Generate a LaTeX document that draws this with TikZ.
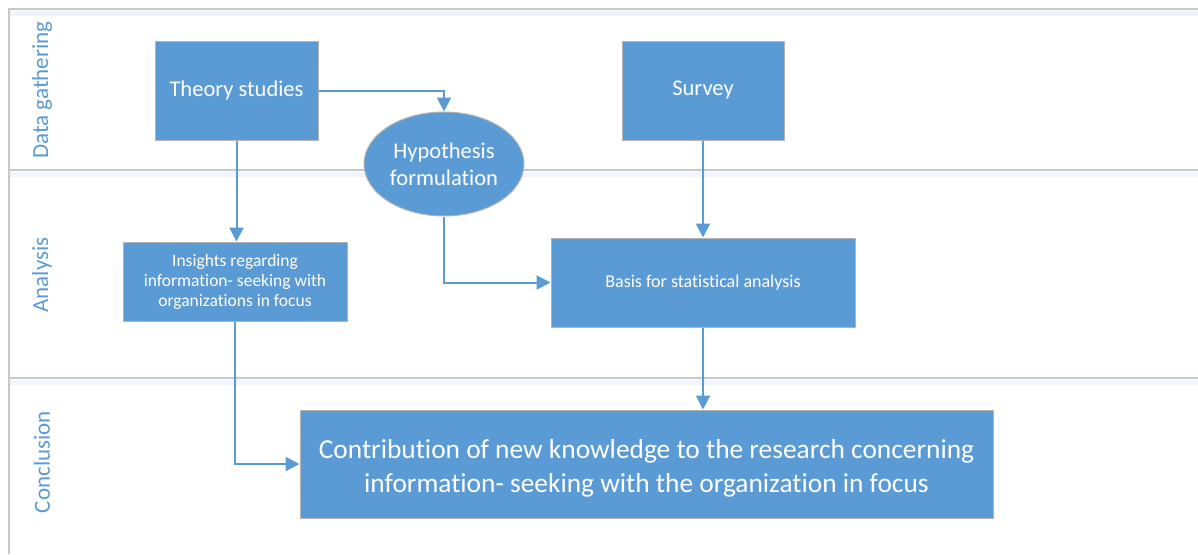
\documentclass[tikz,border=0pt]{standalone}
\usepackage{fontspec}
\setmainfont{Carlito}[RawFeature={-liga;-clig;-calt;-dlig;-rlig;-ccmp}]
\usetikzlibrary{arrows.meta,shapes.geometric}
\definecolor{boxblue}{HTML}{5B9BD5}
\definecolor{laneline}{HTML}{C8C8C8}
\definecolor{laneshade}{HTML}{F1F5FB}
\definecolor{boxedge}{HTML}{B4B4B4}
\tikzset{
  procbox/.style={draw=boxedge, line width=1pt, fill=boxblue, text=white, align=center, inner sep=0pt},
  flow/.style={draw=boxblue, line width=2pt, -{Triangle[length=14pt,width=14pt]}},
  lanetitle/.style={text=boxblue, rotate=90, font=\fontsize{23}{26}\selectfont},
}
\begin{document}
\begin{tikzpicture}[x=1pt,y=-1pt]
  \useasboundingbox (0,0) rectangle (1198,554);
  \fill[white] (0,0) rectangle (1198,554);
  % swimlane frame
  \fill[laneshade] (10,11) rectangle (1198,16);
  \fill[laneshade] (10,172) rectangle (1198,177);
  \fill[laneshade] (10,380) rectangle (1198,385);
  \draw[laneline, line width=1.5pt] (1198,9) -- (9,9) -- (9,554);
  \draw[laneline, line width=1.5pt] (9,170) -- (1198,170);
  \draw[laneline, line width=1.5pt] (9,378) -- (1198,378);
  % lane titles
  \node[lanetitle] (lane1) at (42,90) {Data gathering};
  \node[lanetitle] (lane2) at (42,275) {Analysis};
  \node[lanetitle] (lane3) at (42,462) {Conclusion};
  % process steps
  \node[procbox, minimum width=163pt, minimum height=99pt, font=\fontsize{22.5}{27}\selectfont] (theory) at (236.5,90.5) {Theory studies};
  \node[procbox, minimum width=162pt, minimum height=99pt, font=\fontsize{22.5}{27}\selectfont] (survey) at (703,90.5) {Survey};
  \node[procbox, ellipse, minimum width=160pt, minimum height=104pt, font=\fontsize{22.5}{27}\selectfont] (hypo) at (444,164) {Hypothesis\\formulation};
  \node[procbox, minimum width=224pt, minimum height=79pt, font=\fontsize{17.5}{20}\selectfont] (insights) at (235,281.5) {Insights regarding\\information- seeking with\\organizations in focus};
  \node[procbox, minimum width=304pt, minimum height=89pt, font=\fontsize{18}{21}\selectfont] (basis) at (703,282.5) {Basis for statistical analysis};
  \node[procbox, minimum width=693pt, minimum height=108pt] (contrib) at (646.5,464) {};
  \node[text=white, align=center, inner sep=0pt, font=\fontsize{27.4}{34}\selectfont] (contribtext) at ([yshift=-4pt]contrib.center) {Contribution of new knowledge to the research concerning\\information- seeking with the organization in focus};
  % connectors
  \draw[flow] (theory.east) -| (hypo.north);
  \draw[flow] (theory.south) -- (insights.north -| theory.south);
  \draw[flow] (hypo.south) |- (basis.west);
  \draw[flow] (survey.south) -- (basis.north);
  \draw[flow] (insights.south) |- (contrib.west);
  \draw[flow] (basis.south) -- (contrib.north -| basis.south);
\end{tikzpicture}
\end{document}
